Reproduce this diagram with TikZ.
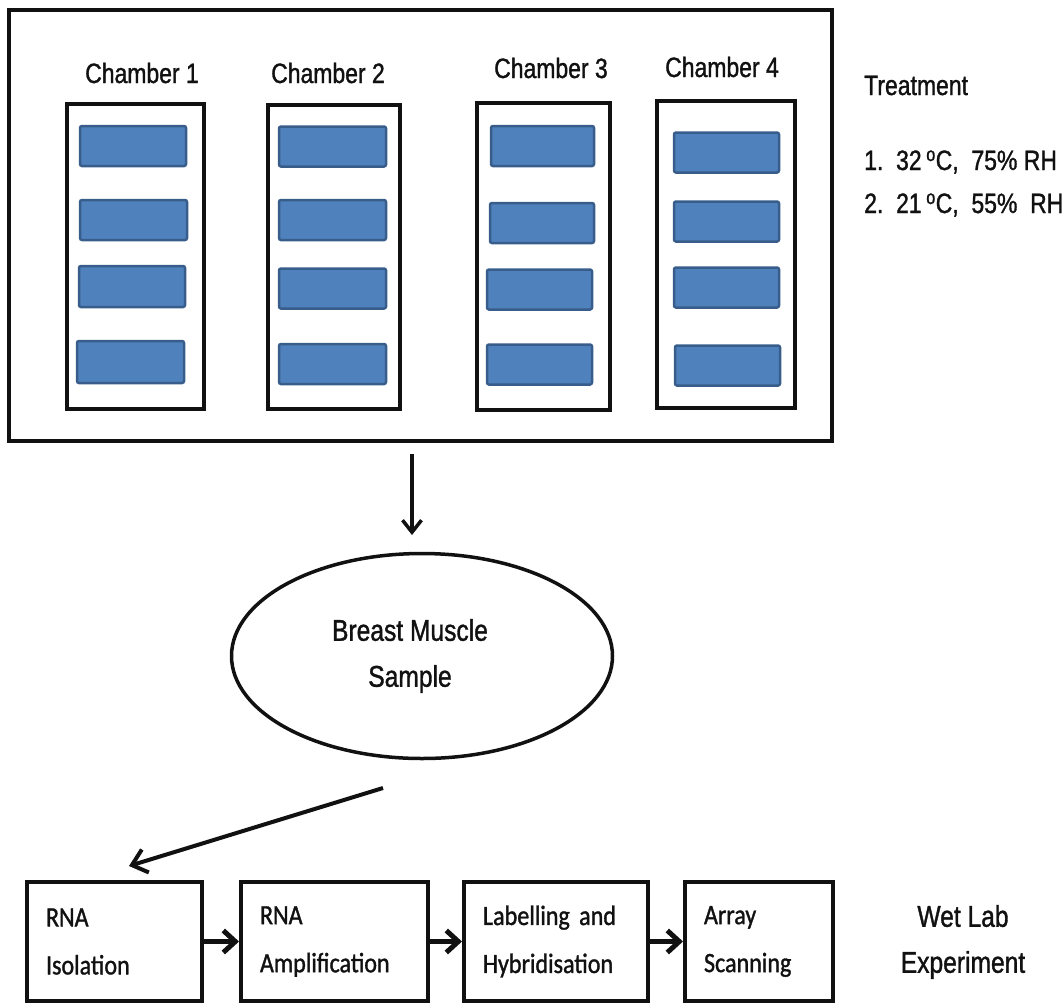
\documentclass[tikz,border=0pt]{standalone}
\usepackage{fontspec}
\setmainfont{Liberation Sans}
\newfontfamily\labfont{Liberation Sans}[FakeStretch=0.82,FakeBold=1.2]
\newfontfamily\wetfont{Carlito}[FakeStretch=0.86,FakeBold=1.2]
\usetikzlibrary{arrows.meta,shapes.geometric}
\definecolor{barfill}{HTML}{4F81BD}
\definecolor{barline}{HTML}{385D8A}
\definecolor{ink}{HTML}{111111}

\begin{document}
\begin{tikzpicture}[x=1pt,y=-1pt,
  frame/.style={draw=ink,line width=4pt,inner sep=0pt},
  bar/.style={draw=barline,fill=barfill,line width=2.5pt,rounded corners=2pt,
    minimum height=40pt,minimum width=106pt,inner sep=0pt},
  chlabel/.style={font=\labfont\fontsize{28}{34}\selectfont,anchor=base,inner sep=0pt,text=ink},
  treat/.style={font=\labfont\fontsize{28}{34}\selectfont,anchor=base west,inner sep=0pt,text=ink},
  sample/.style={ellipse,draw=ink,line width=3.5pt,minimum width=381pt,minimum height=205pt,
    inner sep=0pt,align=center,text=ink,font=\labfont\fontsize{30}{46}\selectfont},
  wetbox/.style={draw=ink,line width=4pt,minimum height=119pt,inner ysep=0pt,inner xsep=19pt,
    align=left,text=ink,font=\wetfont\fontsize{28}{48}\selectfont},
  flow/.style={draw=ink,line width=3.5pt,-{Straight Barb[length=12pt,width=19pt]}},
  diag/.style={draw=ink,line width=4pt,-{Straight Barb[length=14pt,width=24pt]}},
  step arrow/.style={draw=ink,line width=5pt,-{Straight Barb[length=12pt,width=22pt]}},
  side/.style={font=\labfont\fontsize{30}{46}\selectfont,align=center,text=ink,inner sep=0pt}
]
\useasboundingbox (0,0) rectangle (1063,1007);

% enclosure holding the four chambers
\node[frame,minimum width=823pt,minimum height=431pt] (outer) at (420.5,225.5) {};

% chamber frames
\node[frame,minimum width=137pt,minimum height=305pt] (ch1) at (135.5,256.5) {};
\node[frame,minimum width=132pt,minimum height=304pt] (ch2) at (334,257) {};
\node[frame,minimum width=133pt,minimum height=307pt] (ch3) at (543.5,256.5) {};
\node[frame,minimum width=138pt,minimum height=307pt] (ch4) at (726,254.5) {};

% chamber titles
\node[chlabel] (l1) at (142,83) {Chamber 1};
\node[chlabel] (l2) at (328,83) {Chamber 2};
\node[chlabel] (l3) at (551,78) {Chamber 3};
\node[chlabel] (l4) at (722,77) {Chamber 4};

% birds / cages in each chamber
\node[bar] (b11) at (133,146) {};
\node[bar,minimum width=107pt] (b12) at (133.5,220) {};
\node[bar,minimum height=41pt] (b13) at (132,286.5) {};
\node[bar,minimum width=107pt,minimum height=42pt] (b14) at (130.5,362) {};

\node[bar,minimum width=107pt] (b21) at (332.5,146.5) {};
\node[bar,minimum width=107pt] (b22) at (332.5,220) {};
\node[bar,minimum width=107pt] (b23) at (332.5,288.5) {};
\node[bar,minimum width=107pt] (b24) at (332.5,364) {};

\node[bar,minimum width=103pt] (b31) at (542.5,146) {};
\node[bar,minimum width=104pt] (b32) at (542,223) {};
\node[bar,minimum width=105pt] (b33) at (539.5,289.5) {};
\node[bar,minimum width=105pt] (b34) at (539.5,364.5) {};

\node[bar,minimum width=105pt] (b41) at (726.5,152.5) {};
\node[bar,minimum width=105pt] (b42) at (726.5,221.5) {};
\node[bar,minimum width=105pt] (b43) at (726.5,287.5) {};
\node[bar,minimum width=105pt] (b44) at (727.5,365.5) {};

% treatment legend
\node[treat] (tr) at (864,95) {Treatment};
\node[treat] (tr1) at (864,170) {1.\ \ 32\,\textsuperscript{o}C,\ \ 75\% RH};
\node[treat] (tr2) at (864,213) {2.\ \ 21\,\textsuperscript{o}C,\ \ 55\%\ \ RH};

% sampling
\coordinate (down1) at (412,454);
\coordinate (down2) at (412,535);
\draw[flow] (down1) -- (down2);

\node[sample] (muscle) at (422,656) {\hspace*{-24pt}Breast Muscle\\\hspace*{-24pt}Sample};

\coordinate (diag1) at (383,788);
\coordinate (diag2) at (129,866);
\draw[diag] (diag1) -- (diag2);

% wet lab steps
\node[wetbox,minimum width=175pt,text width=137pt] (s1) at (114.5,941.5) {RNA\\Isolation};
\node[wetbox,minimum width=187pt,text width=149pt] (s2) at (334.5,941.5) {RNA\\Amplification};
\node[wetbox,minimum width=184pt,text width=146pt] (s3) at (556,941.5) {Labelling and\\Hybridisation};
\node[wetbox,minimum width=148pt,text width=110pt] (s4) at (759,941.5) {Array\\Scanning};

\draw[step arrow] (s1.east) -- (s2.west);
\draw[step arrow] (s2.east) -- (s3.west);
\draw[step arrow] (s3.east) -- (s4.west);

\node[side] (wet) at (963,942) {Wet Lab\\Experiment};
\end{tikzpicture}
\end{document}
